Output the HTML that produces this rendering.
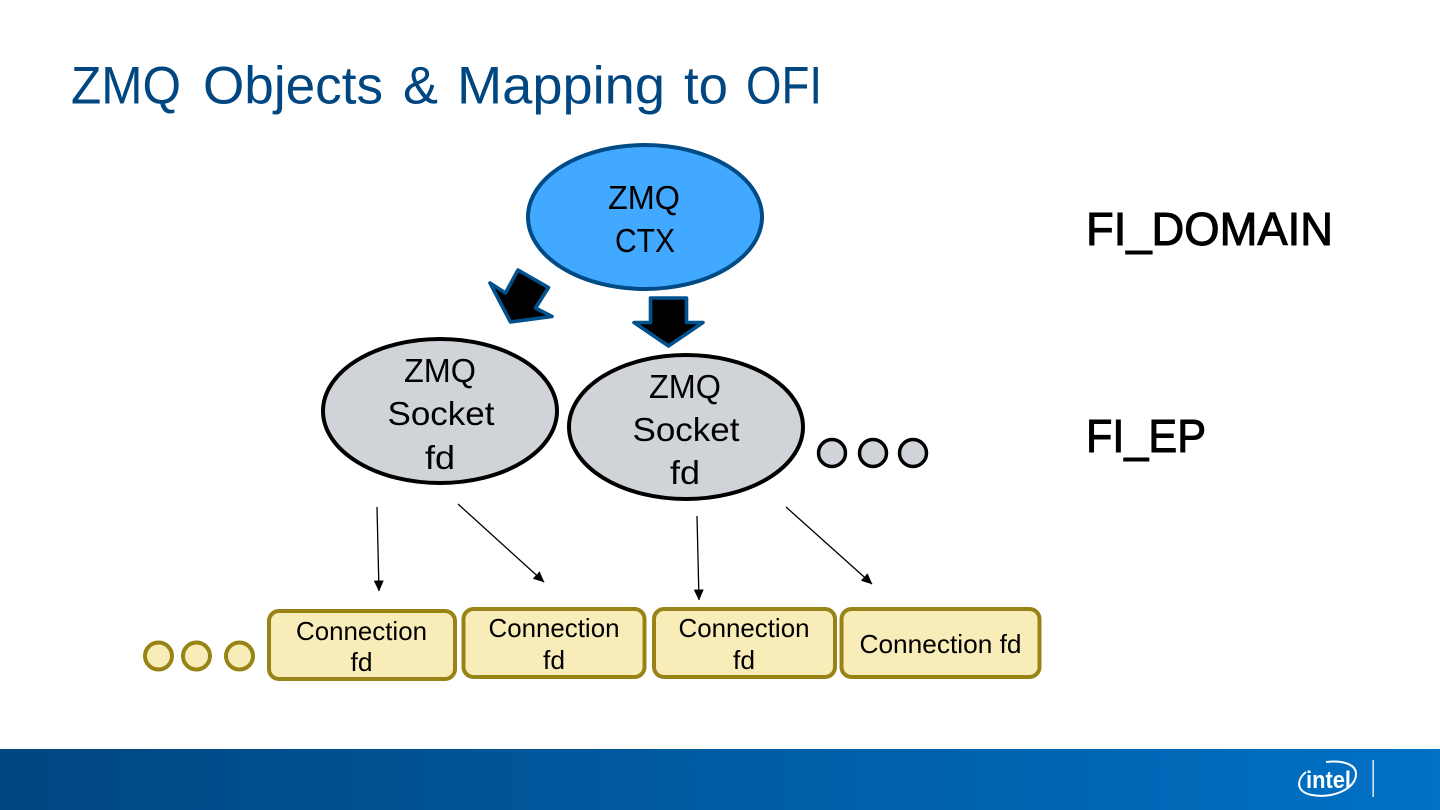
<!DOCTYPE html>
<html>
<head>
<meta charset="utf-8">
<style>
html,body{margin:0;padding:0;background:#fff;width:1440px;height:810px;overflow:hidden}
svg{display:block}
text{font-family:"Liberation Sans",sans-serif;fill:#000}
</style>
</head>
<body>
<svg width="1440" height="810" viewBox="0 0 1440 810" xmlns="http://www.w3.org/2000/svg">
<defs>
<linearGradient id="bar" x1="0" y1="0" x2="1" y2="0">
<stop offset="0" stop-color="#004680"/>
<stop offset="1" stop-color="#0071c5"/>
</linearGradient>
<marker id="ah" markerWidth="11" markerHeight="10" refX="10.500" refY="5" orient="auto" markerUnits="userSpaceOnUse">
<path d="M0,0 L11,5 L0,10 Z" fill="#000"/>
</marker>
</defs>
<rect width="1440" height="810" fill="#fff"/>
<g font-size="53">
<text x="71" y="103.500" textLength="110" lengthAdjust="spacingAndGlyphs" style="fill:#004680">ZMQ</text>
<text x="203" y="103.500" textLength="180" lengthAdjust="spacingAndGlyphs" style="fill:#004680">Objects</text>
<text x="403" y="103.500" textLength="35" lengthAdjust="spacingAndGlyphs" style="fill:#004680">&amp;</text>
<text x="457" y="103.500" textLength="208" lengthAdjust="spacingAndGlyphs" style="fill:#004680">Mapping</text>
<text x="684" y="103.500" textLength="44" lengthAdjust="spacingAndGlyphs" style="fill:#004680">to</text>
<text x="746" y="103.500" textLength="76" lengthAdjust="spacingAndGlyphs" style="fill:#004680">OFI</text>
</g>

<ellipse cx="645" cy="217" rx="117" ry="72" fill="#41a9ff" stroke="#004a86" stroke-width="4"/>
<text x="644" y="209" font-size="33" text-anchor="middle" textLength="72" lengthAdjust="spacingAndGlyphs">ZMQ</text>
<text x="645" y="252" font-size="33" text-anchor="middle" textLength="60" lengthAdjust="spacingAndGlyphs">CTX</text>

<polygon points="518,270 548.500,287.500 535.500,308 552,316.500 510.500,322 490,283 505.500,293" fill="#000" stroke="#00528f" stroke-width="3.600" stroke-linejoin="round"/>
<polygon points="650.500,298 686.500,298 686.500,322.500 703,322.500 668.500,346 634,322.500 650.500,322.500" fill="#000" stroke="#00528f" stroke-width="3.600" stroke-linejoin="round"/>

<ellipse cx="440" cy="411" rx="117" ry="72" fill="#d0d4d9" stroke="#000" stroke-width="4"/>
<text x="440" y="382" font-size="33" text-anchor="middle" textLength="72" lengthAdjust="spacingAndGlyphs">ZMQ</text>
<text x="441" y="425" font-size="33" text-anchor="middle" textLength="107" lengthAdjust="spacingAndGlyphs">Socket</text>
<text x="440" y="469" font-size="33" text-anchor="middle" textLength="30" lengthAdjust="spacingAndGlyphs">fd</text>

<ellipse cx="686" cy="427" rx="117" ry="72" fill="#d0d4d9" stroke="#000" stroke-width="4"/>
<text x="685" y="398" font-size="33" text-anchor="middle" textLength="72" lengthAdjust="spacingAndGlyphs">ZMQ</text>
<text x="686" y="441" font-size="33" text-anchor="middle" textLength="107" lengthAdjust="spacingAndGlyphs">Socket</text>
<text x="685" y="484" font-size="33" text-anchor="middle" textLength="30" lengthAdjust="spacingAndGlyphs">fd</text>

<g fill="#d0d4d9" stroke="#000" stroke-width="3.500">
<circle cx="832" cy="453" r="13.500"/>
<circle cx="873" cy="453" r="13.500"/>
<circle cx="913" cy="453" r="13.500"/>
</g>

<text x="1086" y="245" font-size="46" textLength="247" lengthAdjust="spacingAndGlyphs" stroke="#000" stroke-width="1">FI_DOMAIN</text>
<text x="1086" y="452" font-size="46" textLength="120" lengthAdjust="spacingAndGlyphs" stroke="#000" stroke-width="1">FI_EP</text>

<g stroke="#000" stroke-width="1.300" fill="none">
<line x1="377" y1="507" x2="379" y2="591" marker-end="url(#ah)"/>
<line x1="458" y1="504" x2="544" y2="582" marker-end="url(#ah)"/>
<line x1="697" y1="516" x2="699" y2="600" marker-end="url(#ah)"/>
<line x1="786" y1="507" x2="872" y2="584" marker-end="url(#ah)"/>
</g>

<g fill="#f8ecb8" stroke="#988317" stroke-width="4">
<circle cx="158.500" cy="656" r="13.500"/>
<circle cx="196.500" cy="656" r="13.500"/>
<circle cx="239.500" cy="656" r="13.500"/>
<rect x="269" y="611" width="186" height="68" rx="10"/>
<rect x="463.500" y="609" width="181" height="68" rx="10"/>
<rect x="654" y="609" width="181" height="68" rx="10"/>
<rect x="841.500" y="609" width="198" height="68" rx="10"/>
</g>

<g font-size="26" text-anchor="middle">
<text x="361.500" y="640" textLength="131" lengthAdjust="spacingAndGlyphs">Connection</text>
<text x="361.500" y="671" textLength="22" lengthAdjust="spacingAndGlyphs">fd</text>
<text x="554" y="637" textLength="131" lengthAdjust="spacingAndGlyphs">Connection</text>
<text x="554" y="669" textLength="22" lengthAdjust="spacingAndGlyphs">fd</text>
<text x="744" y="637" textLength="131" lengthAdjust="spacingAndGlyphs">Connection</text>
<text x="744" y="669" textLength="22" lengthAdjust="spacingAndGlyphs">fd</text>
<text x="940.500" y="653" textLength="162" lengthAdjust="spacingAndGlyphs">Connection fd</text>
</g>

<rect x="0" y="749" width="1440" height="61" fill="url(#bar)"/>
<g>
<path d="M1306,772 C1296,780 1296,792 1312,795 C1332,799 1356,789 1356,774 C1356,764 1342,760 1326,762" fill="none" stroke="#fff" stroke-width="2"/>
<text x="1306" y="788" font-size="24" font-weight="bold" textLength="45" lengthAdjust="spacingAndGlyphs" style="fill:#fff">intel</text>
<rect x="1372.500" y="760" width="1.300" height="37" fill="#fff"/>
</g>
</svg>
</body>
</html>
